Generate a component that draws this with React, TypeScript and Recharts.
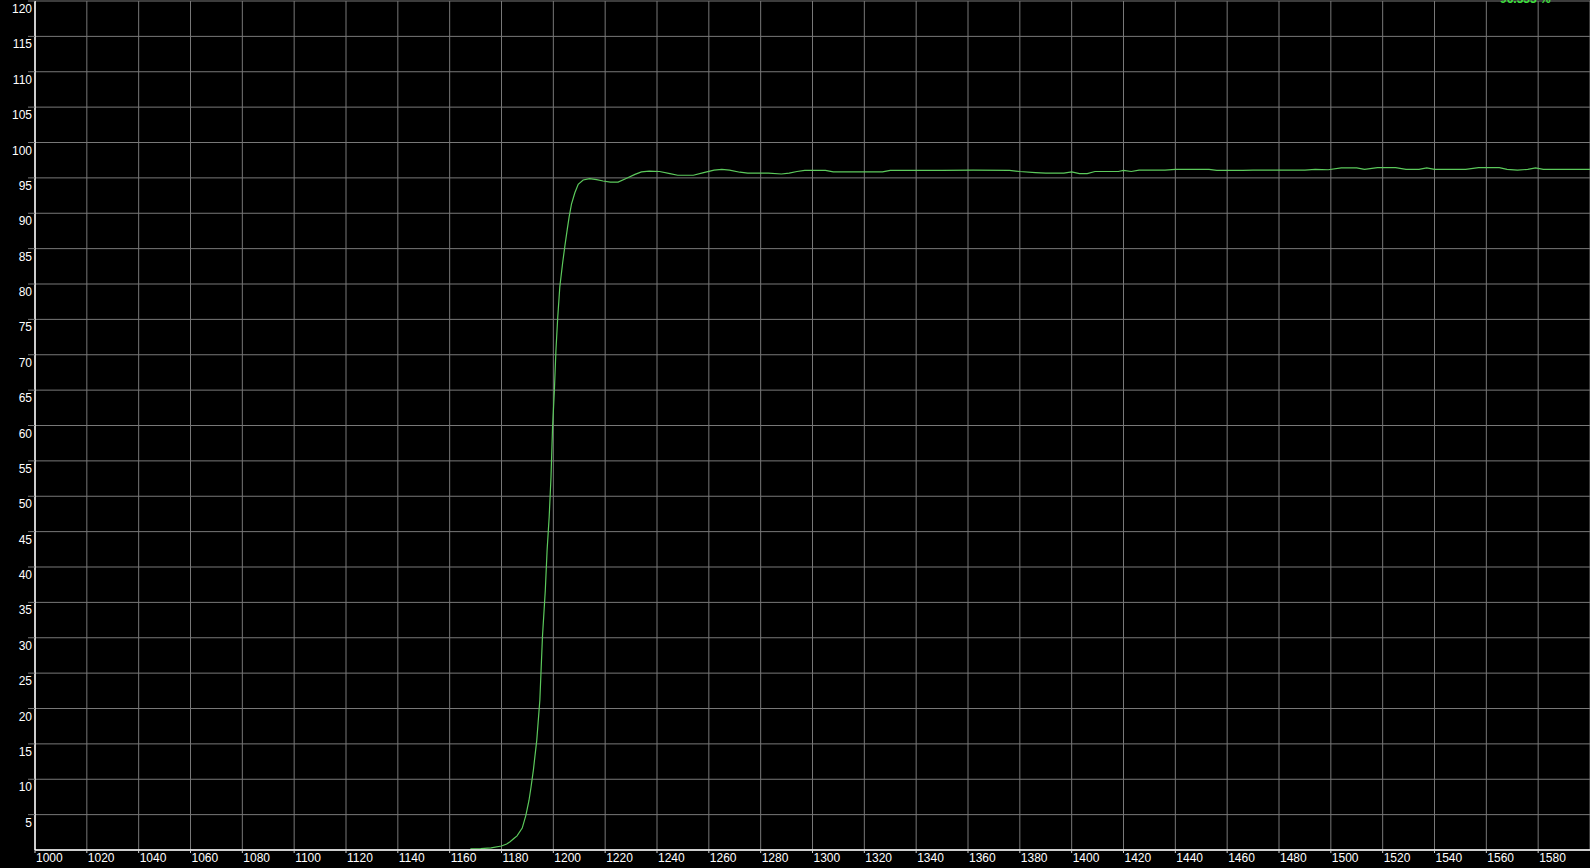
import React from 'react';
import { LineChart, Line, XAxis, YAxis, CartesianGrid } from 'recharts';

const timeValues = [
  1168, 1172, 1176, 1180, 1182, 1183.3, 1185, 1186, 1188, 1189.4, 1190.6, 1191.4, 1192.3, 1193.6,
  1194.8, 1195.8, 1196.9, 1197.6, 1198.4, 1199.1, 1199.7, 1200.4, 1201, 1201.7, 1202.5, 1203.6,
  1204.5, 1205.4, 1206.1, 1207, 1208.3, 1209.6, 1211.5, 1214, 1216.7, 1219.2, 1222, 1225, 1228.3,
  1231.5, 1234, 1237, 1241, 1245, 1248, 1254, 1258, 1262, 1265, 1268, 1272, 1275, 1283, 1288,
  1291, 1294, 1297, 1305, 1308, 1327, 1330, 1350, 1362, 1376, 1380, 1386, 1390, 1397, 1400,
  1403, 1406, 1409, 1418, 1420, 1423, 1426, 1436, 1440, 1453, 1456, 1466, 1470, 1490, 1494,
  1499, 1504, 1510, 1513, 1518, 1525, 1529, 1534, 1537, 1540, 1552, 1557, 1565, 1568, 1572,
  1576, 1579, 1582, 1600,
];

const percentValues = [
  0.15, 0.2, 0.3, 0.56, 0.85, 1.17, 1.7, 2.0, 3.1, 4.9, 7.0, 8.9, 11.3, 15.5,
  21.2, 30.1, 36.7, 42.4, 47.1, 52.7, 59.7, 64.9, 70.6, 75.3, 79.6, 83.0,
  85.5, 87.8, 89.5, 91.3, 92.9, 94.1, 94.7, 94.9, 94.75, 94.56, 94.4, 94.4, 94.95,
  95.5, 95.85, 95.95, 95.9, 95.6, 95.37, 95.37, 95.75, 96.1, 96.2, 96.1, 95.8, 95.66, 95.66, 95.55,
  95.66, 95.9, 96.07, 96.07, 95.84, 95.84, 96.07, 96.07, 96.1, 96.07, 95.9, 95.75, 95.66, 95.66, 95.84,
  95.6, 95.6, 95.9, 95.9, 96.07, 95.9, 96.1, 96.1, 96.2, 96.2, 96.07, 96.07, 96.1, 96.1, 96.2,
  96.15, 96.4, 96.4, 96.2, 96.45, 96.45, 96.2, 96.2, 96.4, 96.2, 96.2, 96.45, 96.45, 96.2, 96.1,
  96.2, 96.4, 96.2, 96.2,
];

const xTickValues = [
  1000, 1020, 1040, 1060, 1080, 1100, 1120, 1140, 1160, 1180, 1200, 1220, 1240, 1260, 1280,
  1300, 1320, 1340, 1360, 1380, 1400, 1420, 1440, 1460, 1480, 1500, 1520, 1540, 1560, 1580,
];

const yTickValues = [
  5, 10, 15, 20, 25, 30, 35, 40, 45, 50, 55, 60, 65, 70, 75, 80, 85, 90, 95, 100, 105, 110, 115, 120,
];

const readoutText = '96.333 %';

const data = timeValues.map((t, i) => ({ t, v: percentValues[i] }));

const FONT = '"Liberation Sans", Arial, sans-serif';

const XTick = (props: any) => {
  const { x, y, payload } = props;
  return (
    <text x={x + 1} y={y + 9} textAnchor="start" fill="#ffffff" fontSize={12} fontFamily={FONT}>
      {payload.value}
    </text>
  );
};

const YTick = (props: any) => {
  const { x, y, payload } = props;
  return (
    <text x={x + 4} y={y + 12} textAnchor="end" fill="#ffffff" fontSize={12} fontFamily={FONT}>
      {payload.value}
    </text>
  );
};

export default function App() {
  return (
    <div
      style={{
        position: 'fixed',
        left: 0,
        top: 0,
        width: 1590,
        height: 868,
        background: '#000000',
        overflow: 'hidden',
      }}
    >
      <LineChart
        width={1590}
        height={868}
        data={data}
        margin={{ top: 1, right: 0, bottom: 0, left: 0 }}
        style={{ background: '#000000' }}
      >
        <CartesianGrid stroke="#787878" strokeWidth={1} />
        <XAxis
          dataKey="t"
          type="number"
          domain={[1000, 1600]}
          ticks={xTickValues}
          interval={0}
          allowDataOverflow
          height={18}
          tickSize={3}
          tickMargin={0}
          axisLine={{ stroke: '#ffffff', strokeWidth: 1.5 }}
          tickLine={{ stroke: '#d0d0d0' }}
          tick={<XTick />}
        />
        <YAxis
          type="number"
          domain={[0, 120]}
          ticks={yTickValues}
          interval={0}
          allowDataOverflow
          width={35}
          tickSize={7}
          tickMargin={0}
          axisLine={{ stroke: '#ffffff', strokeWidth: 1.5 }}
          tickLine={{ stroke: '#787878' }}
          tick={<YTick />}
        />
        <Line
          dataKey="v"
          type="linear"
          stroke="#5cc95c"
          strokeWidth={1.2}
          dot={false}
          activeDot={false}
          isAnimationActive={false}
        />
      </LineChart>
      <svg
        width={200}
        height={20}
        style={{ position: 'absolute', left: 1390, top: 0, overflow: 'hidden' }}
      >
        <text x={110} y={2.5} fill="#3ee03e" fontSize={12} fontWeight="bold" fontFamily={FONT}>
          {readoutText}
        </text>
      </svg>
    </div>
  );
}
